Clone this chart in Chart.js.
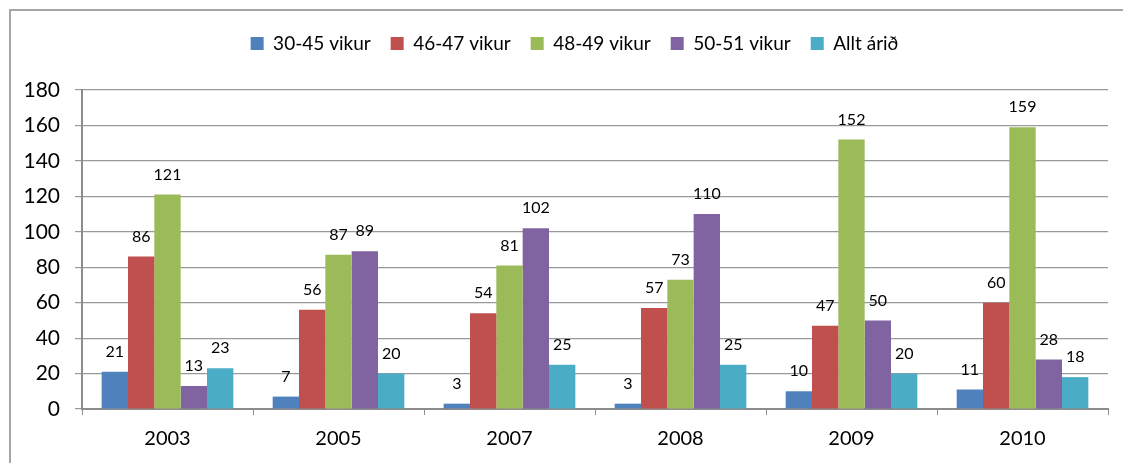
<!DOCTYPE html>
<html lang="is">
<head>
<meta charset="UTF-8">
<title>Vikur</title>
<script src="https://cdn.jsdelivr.net/npm/chart.js"></script>
<style>
    html, body { margin: 0; padding: 0; background: #fff; }
    #wrap { position: relative; width: 1123px; height: 463px; }
</style>
</head>
<body>
<div id="wrap"><canvas id="myChart" width="1123" height="463"></canvas></div>
<script>
    const years = ['2003', '2005', '2007', '2008', '2009', '2010'];
    const seriesNames = ['30-45 vikur', '46-47 vikur', '48-49 vikur', '50-51 vikur', 'Allt árið'];
    const v3045 = [21, 7, 3, 3, 10, 11];
    const v4647 = [86, 56, 54, 57, 47, 60];
    const v4849 = [121, 87, 81, 73, 152, 159];
    const v5051 = [13, 89, 102, 110, 50, 28];
    const vAllt = [23, 20, 25, 25, 20, 18];
    const yTicks = [0, 20, 40, 60, 80, 100, 120, 140, 160, 180];
    const colors = ['#4F81BD', '#C0504D', '#9BBB59', '#8064A2', '#4BACC6'];

    const FONT = 'Lato, "Noto Sans", sans-serif';
    const gray = '#8c8c8c';

    // frame round the whole chart, and legend tweaks
    const framePlugin = {
        id: 'frame',
        afterInit(chart) {
            const lg = chart.legend;
            const fit = lg.fit.bind(lg);
            const draw = lg.draw.bind(lg);
            // extra room under the legend
            lg.fit = function () { fit(); this.height += 27; };
            // the legend sits a bit right of centre
            lg.draw = function () {
                const c = chart.ctx;
                c.save();
                c.translate(16, 0);
                draw();
                c.restore();
            };
        },
        beforeDraw(chart) {
            const c = chart.ctx;
            c.save();
            c.fillStyle = '#fff';
            c.fillRect(0, 0, chart.width, chart.height);
            c.strokeStyle = '#a6a6a6';
            c.lineWidth = 2;
            c.strokeRect(10, 10, 1300, 700);
            c.restore();
        }
    };

    // value labels on top of bars
    const valueLabels = {
        id: 'valueLabels',
        afterDatasetsDraw(chart) {
            const c = chart.ctx;
            c.save();
            c.font = '16px ' + FONT;
            c.fillStyle = '#000';
            c.textAlign = 'center';
            c.textBaseline = 'bottom';
            chart.data.datasets.forEach((ds, i) => {
                chart.getDatasetMeta(i).data.forEach((bar, j) => {
                    c.fillText(ds.data[j], bar.x, bar.y - 12);
                });
            });
            c.restore();
        }
    };

    const values = [v3045, v4647, v4849, v5051, vAllt];

    new Chart(document.getElementById('myChart'), {
        type: 'bar',
        data: {
            labels: years,
            datasets: seriesNames.map((name, i) => ({
                label: name,
                data: values[i],
                backgroundColor: colors[i],
                borderWidth: 0,
                barPercentage: 1,
                categoryPercentage: 0.77
            }))
        },
        options: {
            responsive: false,
            animation: false,
            layout: { padding: { left: 9, right: 15, top: 14, bottom: 0 } },
            plugins: {
                legend: {
                    position: 'top',
                    labels: {
                        boxWidth: 13,
                        boxHeight: 13,
                        color: '#000',
                        font: { family: FONT, size: 19 },
                        padding: 20
                    }
                },
                tooltip: { enabled: false }
            },
            scales: {
                x: {
                    grid: {
                        offset: true,
                        drawOnChartArea: false,
                        drawTicks: true,
                        tickLength: 6,
                        color: gray
                    },
                    border: { color: gray, width: 2 },
                    ticks: {
                        color: '#000',
                        font: { family: FONT, size: 20 },
                        padding: 12
                    },
                    afterFit(scale) { scale.height = 54; }
                },
                y: {
                    min: 0,
                    max: 180,
                    afterBuildTicks(scale) { scale.ticks = yTicks.map(v => ({ value: v })); },
                    grid: { color: '#999999', lineWidth: 1.2, tickLength: 7 },
                    border: { color: gray, width: 2 },
                    ticks: {
                        color: '#000',
                        font: { family: FONT, size: 21 },
                        padding: 15
                    },
                    afterFit(scale) { scale.width = 73; }
                }
            }
        },
        plugins: [framePlugin, valueLabels]
    });
</script>
</body>
</html>
